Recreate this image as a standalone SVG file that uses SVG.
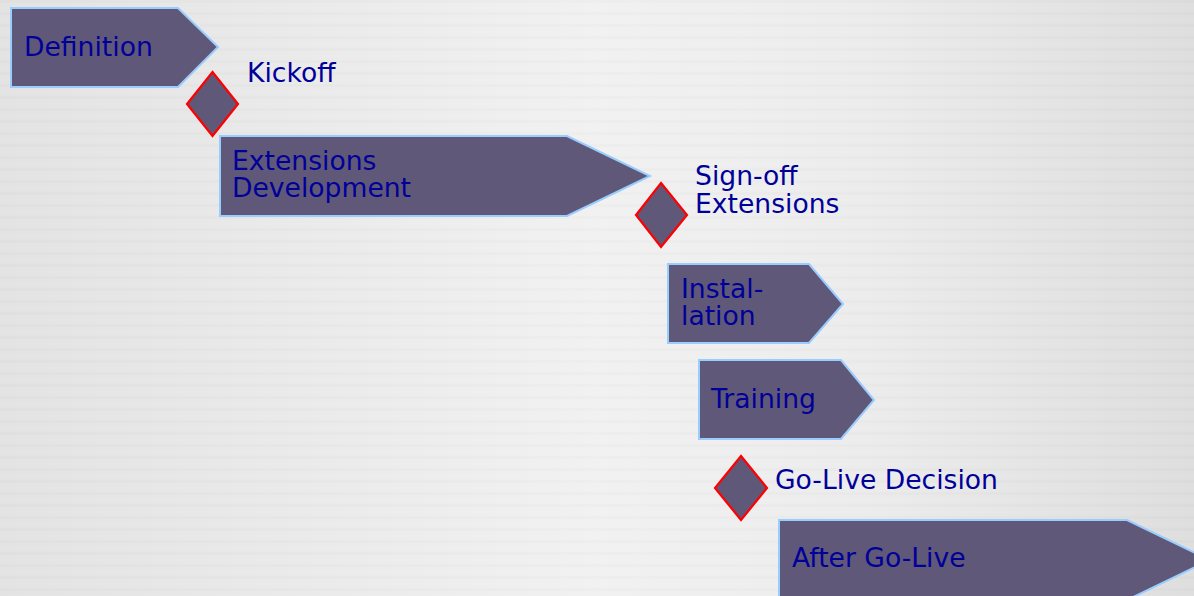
<svg xmlns="http://www.w3.org/2000/svg" width="1194" height="596" viewBox="0 0 1194 596">
  <defs>
    <linearGradient id="bg" x1="0" y1="0" x2="1" y2="0">
      <stop offset="0" stop-color="#e3e3e3"/>
      <stop offset="0.5" stop-color="#f1f1f1"/>
      <stop offset="0.72" stop-color="#ececec"/>
      <stop offset="1" stop-color="#dedede"/>
    </linearGradient>
    <pattern id="streaks" width="1194" height="12" patternUnits="userSpaceOnUse">
      <rect x="0" y="0" width="1194" height="3" fill="#000" opacity="0.01"/>
      <rect x="0" y="7" width="1194" height="2" fill="#fff" opacity="0.03"/>
    </pattern>
    <style>
      .phase { fill: #605878; stroke: #99ccff; stroke-width: 2; stroke-linejoin: miter; }
      .ms { fill: #605878; stroke: #ff0000; stroke-width: 2.2; }
      .lbl { font-family: "DejaVu Sans", Verdana, sans-serif; font-size: 26.6px; fill: #000099; }
    </style>
  </defs>
  <rect x="0" y="0" width="1194" height="596" fill="url(#bg)"/>
  <rect x="0" y="0" width="1194" height="596" fill="url(#streaks)"/>

  <g id="definition">
    <polygon class="phase" points="11,8 178,8 218,47 178,87 11,87"/>
    <text class="lbl" x="24" y="56">Definition</text>
  </g>

  <g id="kickoff">
    <polygon class="ms" points="212.5,72 238,104 212.5,136 187,104"/>
    <text class="lbl" x="247" y="82">Kickoff</text>
  </g>

  <g id="extensions-development">
    <polygon class="phase" points="220,136 567,136 650,176 567,216 220,216"/>
    <text class="lbl" x="232" y="170">Extensions</text>
    <text class="lbl" x="232" y="197">Development</text>
  </g>

  <g id="signoff-extensions">
    <polygon class="ms" points="661,183 687,215 661,247 636,215"/>
    <text class="lbl" x="695" y="185">Sign-off</text>
    <text class="lbl" x="695" y="213">Extensions</text>
  </g>

  <g id="installation">
    <polygon class="phase" points="668,264 809,264 843,304 809,343 668,343"/>
    <text class="lbl" x="681" y="298">Instal-</text>
    <text class="lbl" x="681" y="325">lation</text>
  </g>

  <g id="training">
    <polygon class="phase" points="699,360 841,360 874,400 841,439 699,439"/>
    <text class="lbl" x="711" y="408">Training</text>
  </g>

  <g id="golive-decision">
    <polygon class="ms" points="741,456 767,488 741,520 715,488"/>
    <text class="lbl" x="775" y="489">Go-Live Decision</text>
  </g>

  <g id="after-golive">
    <polygon class="phase" points="779,520 1127,520 1210,560 1127,600 779,600"/>
    <text class="lbl" x="792" y="567">After Go-Live</text>
  </g>

  <g id="connectors"></g>
</svg>
